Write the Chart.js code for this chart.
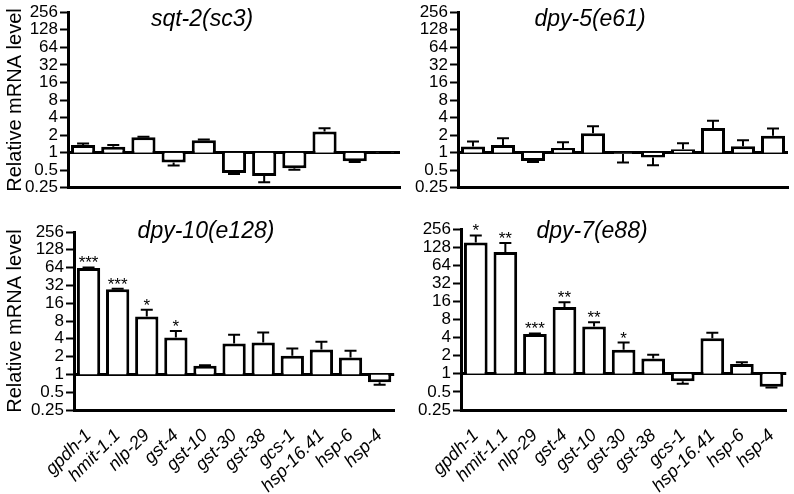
<!DOCTYPE html>
<html>
<head>
<meta charset="utf-8">
<script src="https://cdn.jsdelivr.net/npm/chart.js@4/dist/chart.umd.min.js"></script>
<style>
  body { margin: 0; background: #fff; }
  #wrap { position: relative; width: 794px; height: 494px; overflow: hidden; }
  canvas { position: absolute; }
</style>
</head>
<body>
<div id="wrap">
  <canvas id="c1" width="402" height="200" style="left:0px;top:0px"></canvas>
  <canvas id="c2" width="394" height="200" style="left:400px;top:0px"></canvas>
  <canvas id="c3" width="402" height="294" style="left:0px;top:200px"></canvas>
  <canvas id="c4" width="394" height="294" style="left:400px;top:200px"></canvas>
</div>
<script>
// genes on the x axis
var genes = ['gpdh-1', 'hmit-1.1', 'nlp-29', 'gst-4', 'gst-10', 'gst-30', 'gst-38', 'gcs-1', 'hsp-16.41', 'hsp-6', 'hsp-4'];
var yTicks = [0.25, 0.5, 1, 2, 4, 8, 16, 32, 64, 128, 256];

// relative mRNA level (fold change) and error bar ends
var sqt2 = [1.35, 1.26, 1.83, 0.68, 1.63, 0.45, 0.40, 0.54, 2.3, 0.71, 1.02];
var sqt2Err = [1.43, 1.35, 1.87, 0.60, 1.69, 0.43, 0.31, 0.51, 2.62, 0.69, 1.03];

var dpy5 = [1.27, 1.36, 0.72, 1.2, 2.16, 0.95, 0.83, 1.15, 2.65, 1.29, 1.95];
var dpy5Err = [1.55, 1.76, 0.69, 1.51, 2.83, 0.68, 0.61, 1.45, 3.52, 1.63, 2.59];

var dpy10 = [63, 27.6, 9.5, 4.2, 1.4, 3.34, 3.47, 2.07, 2.64, 1.94, 0.74];
var dpy10Err = [64.5, 28, 12.4, 5.4, 1.43, 4.67, 5.1, 2.75, 3.56, 2.5, 0.67];
var dpy10Sig = ['***', '***', '*', '*', '', '', '', '', '', '', ''];

var dpy7 = [153, 106, 4.6, 12.9, 6.1, 2.5, 1.8, 0.75, 3.9, 1.45, 0.61];
var dpy7Err = [200, 150, 4.7, 15.5, 7.2, 3.3, 2.07, 0.68, 4.8, 1.56, 0.59];
var dpy7Sig = ['*', '**', '***', '**', '**', '*', '', '', '', '', ''];

var FONT = "'Liberation Sans', Arial, sans-serif";

// error bars, asterisks and panel title
var extras = {
    id: 'extras',
    afterDatasetsDraw: function(chart) {
        var o = chart.options.plugins.extras;
        var ctx = chart.ctx;
        var y = chart.scales.y;
        var meta = chart.getDatasetMeta(0);
        ctx.save();
        ctx.strokeStyle = '#000';
        ctx.lineWidth = 2;
        meta.data.forEach(function(bar, i) {
            var yv = y.getPixelForValue(o.values[i]);
            var ye = y.getPixelForValue(o.errors[i]);
            ctx.beginPath();
            ctx.moveTo(bar.x, yv);
            ctx.lineTo(bar.x, ye);
            ctx.moveTo(bar.x - 6, ye);
            ctx.lineTo(bar.x + 6, ye);
            ctx.stroke();
            if (o.sig && o.sig[i]) {
                ctx.fillStyle = '#000';
                ctx.font = '17px ' + FONT;
                ctx.textAlign = 'center';
                ctx.textBaseline = 'alphabetic';
                ctx.fillText(o.sig[i], bar.x, Math.min(ye, yv) + 1);
            }
        });
        ctx.fillStyle = '#000';
        ctx.font = 'italic 23px ' + FONT;
        ctx.textAlign = 'center';
        ctx.textBaseline = 'alphabetic';
        ctx.fillText(o.title, o.titleX, o.titleY);
        ctx.restore();
    }
};

function panel(id, title, values, errors, sig, p) {
    new Chart(document.getElementById(id), {
        type: 'bar',
        data: {
            labels: genes,
            datasets: [{
                data: values.map(function(v) { return [1, v]; }),
                backgroundColor: '#fff',
                borderColor: '#000',
                borderWidth: 3,
                borderSkipped: function(c) { return values[c.dataIndex] >= 1 ? 'bottom' : 'top'; },
                categoryPercentage: 0.8,
                barPercentage: 1
            }]
        },
        options: {
            responsive: false,
            animation: false,
            layout: { padding: { top: p.top, right: p.right, left: 0, bottom: 0 } },
            plugins: {
                legend: { display: false },
                tooltip: { enabled: false },
                extras: { title: title, titleX: p.titleX, titleY: p.titleY, values: values, errors: errors, sig: sig }
            },
            scales: {
                x: {
                    afterFit: function(s) { s.height = p.xh; },
                    grid: { display: false },
                    border: { color: '#000', width: 3 },
                    ticks: {
                        display: p.labels,
                        color: '#000',
                        autoSkip: false,
                        maxRotation: 45,
                        minRotation: 45,
                        padding: 7,
                        font: { family: FONT, size: 18, style: 'italic' }
                    }
                },
                y: {
                    type: 'logarithmic',
                    min: 0.25,
                    max: 256,
                    afterFit: function(s) { s.width = p.yw; },
                    afterBuildTicks: function(s) {
                        s.ticks = yTicks.map(function(v) { return { value: v }; });
                    },
                    border: { color: '#000', width: 3 },
                    grid: {
                        drawOnChartArea: true,
                        color: function(c) { return c.tick && c.tick.value === 1 ? '#000' : 'rgba(0,0,0,0)'; },
                        lineWidth: function(c) { return c.tick && c.tick.value === 1 ? 3 : 1; },
                        tickColor: '#000',
                        tickWidth: 2,
                        tickLength: 8
                    },
                    ticks: {
                        color: '#000',
                        autoSkip: false,
                        padding: 2,
                        font: { family: FONT, size: 17 },
                        callback: function(v) { return String(v); }
                    },
                    title: {
                        display: p.yTitle,
                        text: 'Relative mRNA level',
                        color: '#000',
                        padding: { top: 3, bottom: 0 },
                        font: { family: FONT, size: 20 }
                    }
                }
            }
        },
        plugins: [extras]
    });
}

panel('c1', 'sqt-2(sc3)', sqt2, sqt2Err, null,
    { top: 9, right: 2, xh: 11, yw: 68, labels: false, yTitle: true, titleX: 202, titleY: 26 });
panel('c2', 'dpy-5(e61)', dpy5, dpy5Err, null,
    { top: 9, right: 6, xh: 11, yw: 58, labels: false, yTitle: false, titleX: 190, titleY: 26 });
panel('c3', 'dpy-10(e128)', dpy10, dpy10Err, dpy10Sig,
    { top: 32, right: 2, xh: 84, yw: 74, labels: true, yTitle: true, titleX: 206, titleY: 38 });
panel('c4', 'dpy-7(e88)', dpy7, dpy7Err, dpy7Sig,
    { top: 29, right: 6, xh: 84, yw: 61, labels: true, yTitle: false, titleX: 192, titleY: 38 });
</script>
</body>
</html>
